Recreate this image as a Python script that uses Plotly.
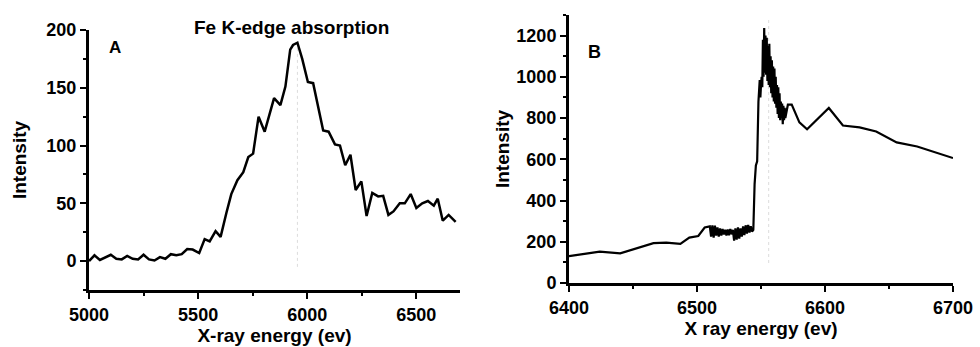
import plotly.graph_objects as go

# Panel A: Fe K-edge absorption
energy_a = [5000, 5025, 5050, 5075, 5100, 5125, 5150, 5175, 5200, 5225, 5250, 5275, 5300, 5325,
            5350, 5375, 5400, 5425, 5450, 5475, 5505, 5530, 5553, 5580, 5603, 5630, 5652, 5680,
            5707, 5730, 5752, 5777, 5805, 5848, 5877, 5900, 5922, 5935, 5955, 5977, 6003, 6027,
            6073, 6098, 6127, 6150, 6174, 6198, 6222, 6248, 6272, 6298, 6325, 6348, 6372, 6395,
            6424, 6447, 6474, 6500, 6527, 6553, 6580, 6598, 6621, 6648, 6680]
intensity_a = [0, 5, 1, 3, 5.5, 2, 1.5, 4.5, 2, 1.5, 5.5, 1.5, 0.5, 3.5,
               2, 6, 5, 6, 10.5, 10, 7, 19, 17, 26, 21, 42, 58, 70,
               77, 90, 93, 125, 112, 141, 135, 151, 183, 187, 189, 175, 155, 154,
               113, 112, 101, 100, 83, 92, 61.5, 69, 39, 59, 56, 56.5, 40, 43,
               50, 50, 58, 46, 50, 52, 48, 54, 35, 40, 34]

# Panel B: X ray energy scan
energy_b = [6400, 6424, 6440, 6453, 6466, 6476, 6487, 6494, 6501, 6506,
            6510, 6511, 6512, 6513, 6514, 6515, 6516, 6517, 6518, 6519, 6520, 6521, 6522,
            6523, 6524, 6525, 6526, 6527, 6528, 6529, 6530, 6531, 6532, 6533, 6534, 6535,
            6536, 6537, 6538, 6539, 6540, 6541, 6542, 6543, 6544,
            6545, 6546, 6547, 6548, 6549, 6549.5,
            6550, 6550.5, 6551, 6551.5, 6552, 6552.5, 6553, 6553.5, 6554, 6554.5, 6555,
            6555.5, 6556, 6556.5, 6557, 6557.5, 6558, 6558.5, 6559, 6559.5, 6560, 6560.5,
            6561, 6561.5, 6562, 6562.5, 6563, 6563.5, 6564, 6564.5, 6565, 6565.5, 6566,
            6566.5, 6567, 6567.5, 6568, 6568.5, 6569, 6571, 6574, 6580, 6586, 6603, 6614,
            6627, 6640, 6656, 6672, 6687, 6700]
intensity_b = [130, 152, 144, 168, 193, 196, 190, 220, 228, 269,
               275, 225, 280, 220, 278, 230, 270, 225, 265, 230, 262, 235, 258,
               230, 260, 232, 262, 236, 258, 205, 265, 210, 270, 215, 265, 225,
               275, 232, 280, 240, 282, 245, 275, 250, 258,
               480, 570, 590, 880, 985, 900,
               960, 1000, 950, 1180, 1000, 1237, 1020, 1200, 1010, 1190, 980,
               1150, 960, 1160, 950, 1100, 920, 1080, 900, 1050, 880, 1040,
               870, 1000, 850, 960, 820, 950, 800, 920, 790, 880, 800,
               870, 770, 860, 790, 850, 800, 865, 865, 779, 746, 849, 764,
               755, 735, 682, 662, 633, 606]

# Tick labels
xa_ticks = [5000, 5500, 6000, 6500]
ya_ticks = [0, 50, 100, 150, 200]
xb_ticks = [6400, 6500, 6600, 6700]
yb_ticks = [0, 200, 400, 600, 800, 1000, 1200]

# Guide lines (light dotted verticals)
guide_a_x = [5955, 5955]
guide_a_y = [-5, 188]
guide_b_x = [6556, 6556]
guide_b_y = [97, 1290]

W, H = 980, 347
FONT = "Liberation Sans, Arial, sans-serif"

fig = go.Figure()
fig.add_trace(go.Scatter(x=guide_a_x, y=guide_a_y, mode="lines", xaxis="x", yaxis="y",
                         line=dict(color="#dcdcdc", width=1, dash="dot"), hoverinfo="skip"))
fig.add_trace(go.Scatter(x=energy_a, y=intensity_a, mode="lines", xaxis="x", yaxis="y",
                         line=dict(color="black", width=2.5)))
fig.add_trace(go.Scatter(x=guide_b_x, y=guide_b_y, mode="lines", xaxis="x2", yaxis="y2",
                         line=dict(color="#dcdcdc", width=1, dash="dot"), hoverinfo="skip"))
fig.add_trace(go.Scatter(x=energy_b, y=intensity_b, mode="lines", xaxis="x2", yaxis="y2",
                         line=dict(color="black", width=2.2)))

tickfont = dict(family=FONT, size=18, color="black")
titlefont = dict(family=FONT, size=19, color="black", weight="bold")

def ax(ticks, minor_tick0, minor_dtick, rng, domain, anchor, title, standoff):
    return dict(range=rng, domain=domain, anchor=anchor, showgrid=False, zeroline=False,
                automargin=False,
                showline=True, linecolor="black", linewidth=3,
                ticks="outside", ticklen=6, tickwidth=2, tickcolor="black",
                tickmode="array", tickvals=ticks, ticktext=["<b>%d</b>" % t for t in ticks],
                minor=dict(ticks="outside", ticklen=3, tickwidth=2, tickcolor="black",
                           tickmode="linear", tick0=minor_tick0, dtick=minor_dtick),
                tickfont=tickfont, title=dict(text=title, font=titlefont, standoff=standoff))

xa_dom = [89 / W, 460 / W]
ya_dom = [(H - 290) / H, (H - 30) / H]
xb_dom = [569 / W, 953 / W]
yb_dom = [(H - 283) / H, (H - 15) / H]

xa = ax(xa_ticks, 5000, 250, [5000, 6700], xa_dom, "y", "X-ray energy (ev)", 2)
ya = ax(ya_ticks, -25, 25, [-25, 200], ya_dom, "x", "Intensity", 15)
xb = ax(xb_ticks, 6400, 50, [6400, 6700], xb_dom, "y2", "X ray energy (ev)", 2)
yb = ax(yb_ticks, 0, 100, [0, 1300], yb_dom, "x2", "Intensity", 2)

fig.update_layout(
    width=W, height=H, margin=dict(l=0, r=0, t=0, b=0),
    paper_bgcolor="white", plot_bgcolor="white", showlegend=False,
    xaxis=xa, yaxis=ya, xaxis2=xb, yaxis2=yb,
    annotations=[
        dict(text="<b>Fe K-edge absorption</b>", x=291 / W, y=(H - 27) / H, xref="paper", yref="paper",
             xanchor="center", yanchor="middle",
             showarrow=False, font=dict(family=FONT, size=19, color="black")),
        dict(text="<b>A</b>", x=115 / W, y=(H - 48) / H, xref="paper", yref="paper",
             xanchor="center", yanchor="middle",
             showarrow=False, font=dict(family=FONT, size=17, color="black")),
        dict(text="<b>B</b>", x=594 / W, y=(H - 52) / H, xref="paper", yref="paper",
             xanchor="center", yanchor="middle",
             showarrow=False, font=dict(family=FONT, size=18, color="black")),
    ],
)

fig.write_html("out.html")
